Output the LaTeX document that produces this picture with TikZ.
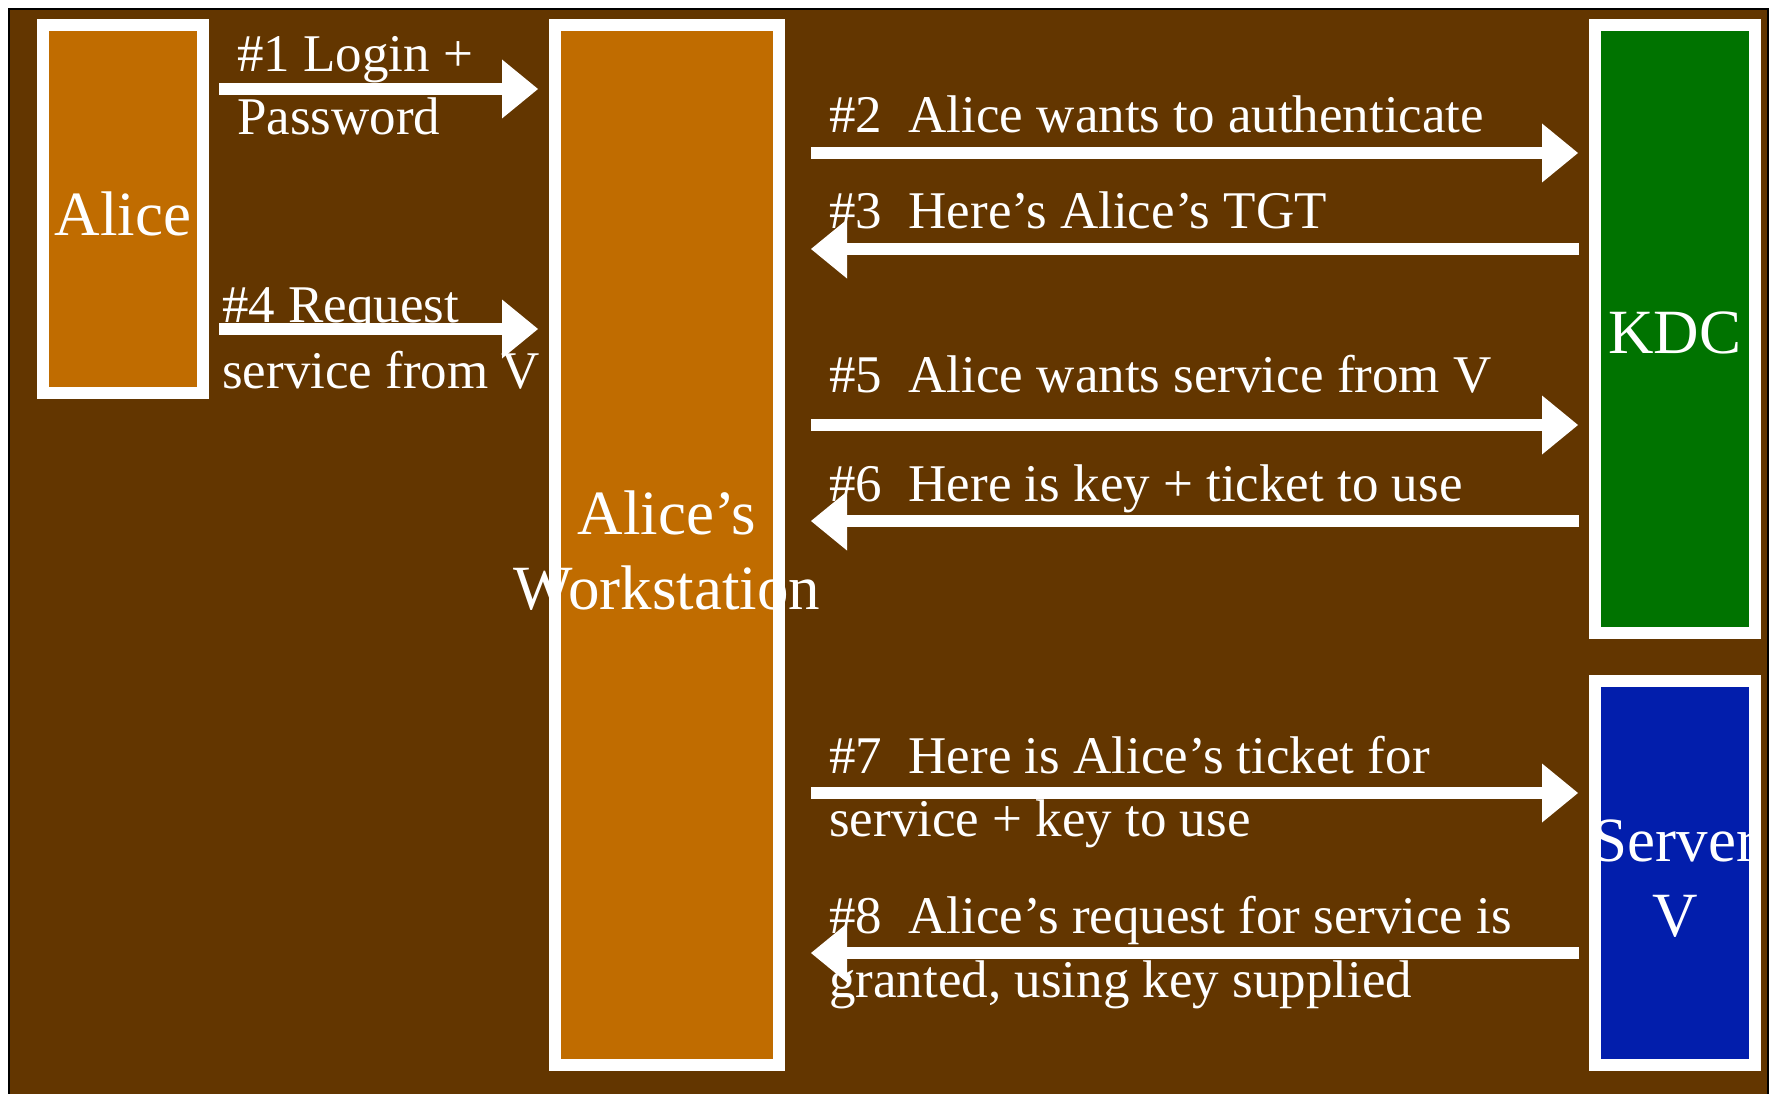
\documentclass[tikz,border=0pt]{standalone}
\usepackage{fontspec}
\setmainfont{Liberation Serif}
\usetikzlibrary{arrows.meta}
\definecolor{bgbrown}{RGB}{99,54,0}
\definecolor{boxorange}{RGB}{192,108,0}
\definecolor{kdcgreen}{RGB}{0,115,0}
\definecolor{srvblue}{RGB}{2,30,172}
\begin{document}
\begin{tikzpicture}[x=1pt,y=-1pt,
  box/.style={draw=white,line width=12pt,inner sep=0pt,minimum width=160pt},
  boxlbl/.style={text=white,font=\fontsize{63}{75}\selectfont,align=center,inner sep=0pt},
  msg/.style={text=white,font=\fontsize{53}{63}\selectfont,anchor=base west,inner sep=0pt},
  arr/.style={draw=white,line width=12pt,-{Triangle[width=59pt,length=36pt,line width=0pt]}}]
\useasboundingbox (0,0) rectangle (1770,1094);
\fill[bgbrown] (9,9) rectangle (1768,1094);
\draw[black,line width=1.5pt] (9,1094) -- (9,9) -- (1768,9) -- (1768,1094);

% boxes
\node[box,fill=boxorange,minimum height=368pt] (alice) at (123,209) {};
\node[box,fill=boxorange,minimum width=224pt,minimum height=1040pt] (ws) at (667,545) {};
\node[box,fill=kdcgreen,minimum height=608pt] (kdc) at (1675,329) {};
\node[box,fill=srvblue,minimum height=384pt] (srv) at (1675,873) {};

% box labels
\node[boxlbl] (alicelbl) at ([yshift=-5pt]alice.center) {Alice};
\node[boxlbl] (wslbl) at ([yshift=-6pt]ws.center) {Alice’s\\Workstation};
\node[boxlbl] (kdclbl) at ([yshift=-4pt]kdc.center) {KDC};
\node[boxlbl] (srvlbl) at ([yshift=-6pt]srv.center) {Server\\V};

% arrow end points
\coordinate (m1s) at (219,89);   \coordinate (m1e) at (538,89);
\coordinate (m4s) at (219,329);  \coordinate (m4e) at (538,329);
\coordinate (m2s) at (811,153);  \coordinate (m2e) at (1578,153);
\coordinate (m3s) at (1579,249); \coordinate (m3e) at (811,249);
\coordinate (m5s) at (811,425);  \coordinate (m5e) at (1578,425);
\coordinate (m6s) at (1579,521); \coordinate (m6e) at (811,521);
\coordinate (m7s) at (811,793);  \coordinate (m7e) at (1578,793);
\coordinate (m8s) at (1579,953); \coordinate (m8e) at (811,953);

\draw[arr] (m1s) -- (m1e);
\draw[arr] (m4s) -- (m4e);
\draw[arr] (m2s) -- (m2e);
\draw[arr] (m3s) -- (m3e);
\draw[arr] (m5s) -- (m5e);
\draw[arr] (m6s) -- (m6e);
\draw[arr] (m7s) -- (m7e);
\draw[arr] (m8s) -- (m8e);

% message texts
\node[msg] (t1a) at (237,72) {\#1 Login +};
\node[msg] (t1b) at (237,135) {Password};
\node[msg] (t4a) at (222,322) {\#4 Request};
\node[msg] (t4b) at (222,388) {service from V};
\node[msg] (t2) at (829,133) {\#2\ \ Alice wants to authenticate};
\node[msg] (t3) at (829,229) {\#3\ \ Here’s Alice’s TGT};
\node[msg] (t5) at (829,392) {\#5\ \ Alice wants service from V};
\node[msg] (t6) at (829,501) {\#6\ \ Here is key + ticket to use};
\node[msg] (t7a) at (829,773) {\#7\ \ Here is Alice’s ticket for};
\node[msg] (t7b) at (829,836) {service + key to use};
\node[msg] (t8a) at (829,933) {\#8\ \ Alice’s request for service is};
\node[msg] (t8b) at (829,997) {granted, using key supplied};
\end{tikzpicture}
\end{document}
